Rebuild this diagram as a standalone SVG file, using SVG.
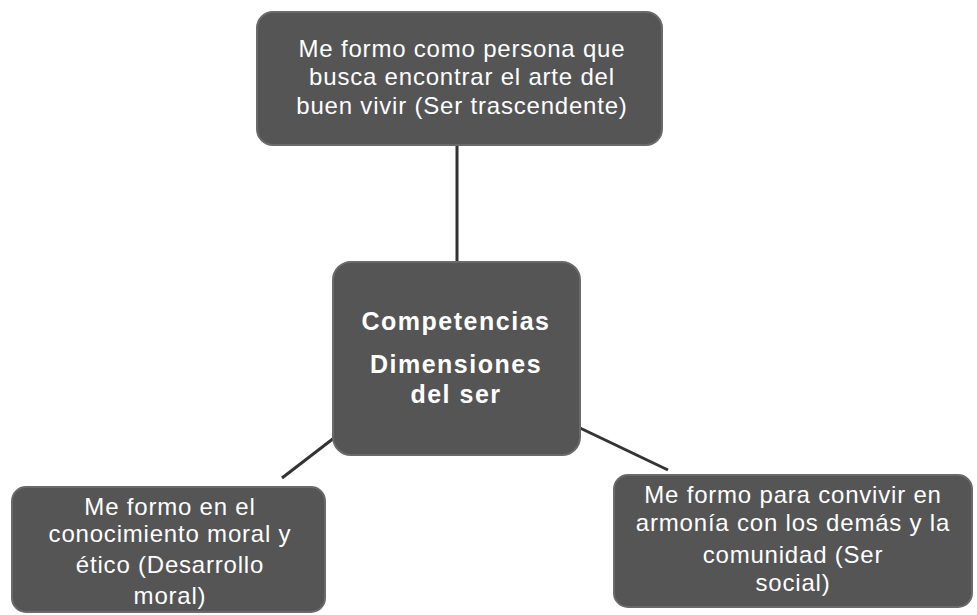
<svg xmlns="http://www.w3.org/2000/svg" width="977" height="615" viewBox="0 0 977 615">
<style>
.box{fill:#555555;stroke:#6a6a6a;stroke-width:2}
.t{font-family:"Liberation Sans",Arial,sans-serif;font-size:24px;fill:#ffffff;text-anchor:middle;letter-spacing:0.8px}
.b{font-weight:bold;font-size:25px;letter-spacing:1.5px}
.c{stroke:#333333;stroke-width:3;fill:none}
</style>
<rect width="977" height="615" fill="#ffffff"/>
<g id="connectors">
<line class="c" x1="457" y1="145" x2="457" y2="262"/>
<line class="c" x1="334" y1="438" x2="282" y2="478"/>
<line class="c" x1="580" y1="428" x2="668" y2="470"/>
</g>
<g id="top">
<rect class="box" x="257" y="12" width="405" height="133" rx="16"/>
<text class="t" x="462" y="57">Me formo como persona que</text>
<text class="t" x="462" y="85">busca encontrar el arte del</text>
<text class="t" x="462" y="114">buen vivir (Ser trascendente)</text>
</g>
<g id="center">
<rect class="box" x="333" y="262" width="247" height="193" rx="18"/>
<text class="t b" x="456" y="330">Competencias</text>
<text class="t b" x="456" y="373">Dimensiones</text>
<text class="t b" x="456" y="403">del ser</text>
</g>
<g id="left">
<rect class="box" x="12" y="487" width="313" height="125" rx="14"/>
<text class="t" x="170" y="515">Me formo en el</text>
<text class="t" x="170" y="542">conocimiento moral y</text>
<text class="t" x="170" y="573">ético (Desarrollo</text>
<text class="t" x="170" y="604">moral)</text>
</g>
<g id="right">
<rect class="box" x="614" y="475" width="358" height="132" rx="14"/>
<text class="t" x="793" y="503">Me formo para convivir en</text>
<text class="t" x="793" y="531">armonía con los demás y la</text>
<text class="t" x="793" y="563">comunidad (Ser</text>
<text class="t" x="793" y="591">social)</text>
</g>
</svg>
